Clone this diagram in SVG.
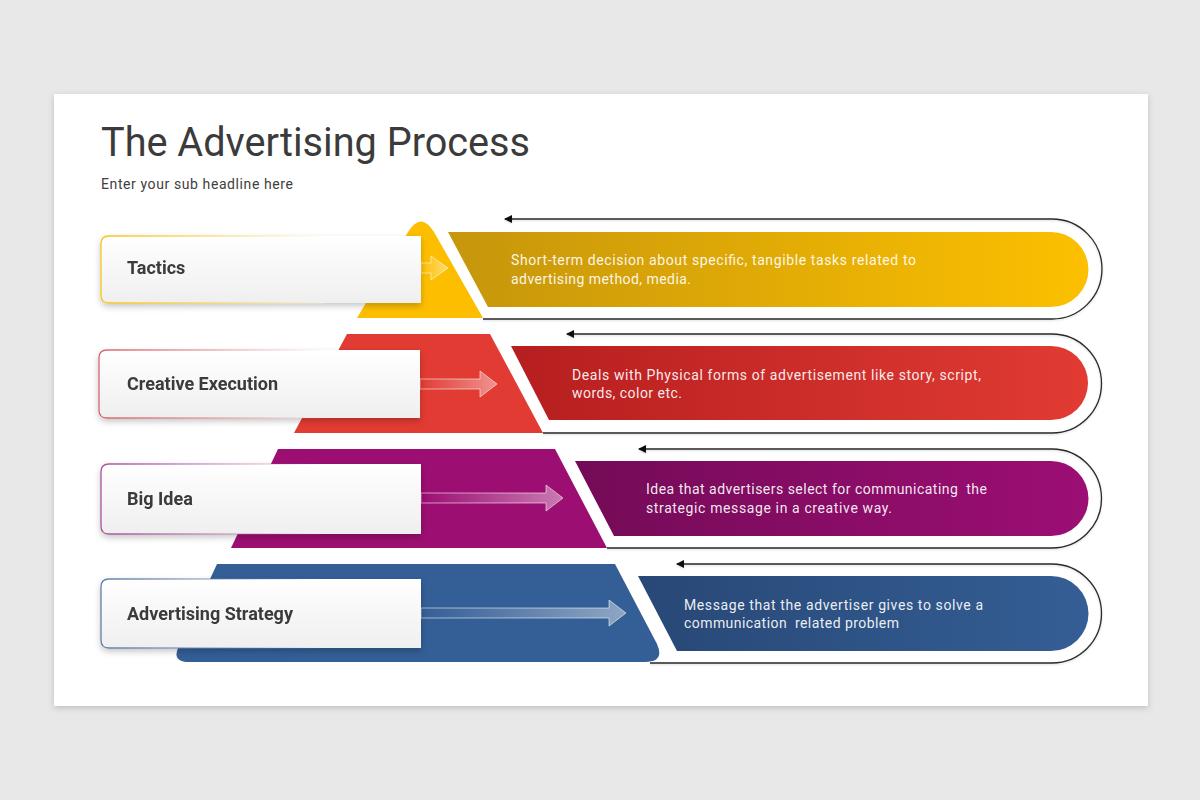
<svg xmlns="http://www.w3.org/2000/svg" width="1200" height="800" viewBox="0 0 1200 800">
<defs>
<style>
.title{font-family:Roboto,"Liberation Sans",sans-serif;font-size:40px;fill:#3b3b3b}
.sub{font-family:Roboto,"Liberation Sans",sans-serif;font-size:14px;fill:#404040}
.lbl{font-family:Roboto,"Liberation Sans",sans-serif;font-size:18px;font-weight:700;fill:#3a3a3a}
.desc{font-family:Roboto,"Liberation Sans",sans-serif;font-size:14px;fill:#ffffff;fill-opacity:0.92;white-space:pre}
.outline{fill:none;stroke:#2a2a2a;stroke-width:1.3}
.arr{fill:url(#arrowFill);stroke:#ffffff;stroke-opacity:0.55;stroke-width:1}
.box{filter:url(#boxShadow)}
</style>
<filter id="cardShadow" x="-5%" y="-5%" width="110%" height="115%">
<feDropShadow dx="0" dy="2" stdDeviation="3" flood-color="#000" flood-opacity="0.18"/>
</filter>
<filter id="boxShadow" x="-10%" y="-20%" width="120%" height="150%">
<feDropShadow dx="0" dy="3" stdDeviation="3" flood-color="#000" flood-opacity="0.22"/>
</filter>
<filter id="lineShadow" x="-5%" y="-10%" width="110%" height="130%">
<feDropShadow dx="0" dy="1" stdDeviation="1" flood-color="#000" flood-opacity="0.15"/>
</filter>
<linearGradient id="boxFill" x1="0" y1="0" x2="0" y2="1">
<stop offset="0" stop-color="#ffffff"/>
<stop offset="1" stop-color="#efefef"/>
</linearGradient>
<linearGradient id="arrowFill" x1="0" y1="0" x2="1" y2="0">
<stop offset="0" stop-color="#ffffff" stop-opacity="0"/>
<stop offset="1" stop-color="#ffffff" stop-opacity="0.45"/>
</linearGradient>
<linearGradient id="bdY" x1="0" y1="0" x2="1" y2="0"><stop offset="0" stop-color="#f5c518"/><stop offset="0.7" stop-color="#f5c518" stop-opacity="0"/></linearGradient>
<linearGradient id="bdR" x1="0" y1="0" x2="1" y2="0"><stop offset="0" stop-color="#d9656a"/><stop offset="0.7" stop-color="#d9656a" stop-opacity="0"/></linearGradient>
<linearGradient id="bdP" x1="0" y1="0" x2="1" y2="0"><stop offset="0" stop-color="#a8539a"/><stop offset="0.7" stop-color="#a8539a" stop-opacity="0"/></linearGradient>
<linearGradient id="bdB" x1="0" y1="0" x2="1" y2="0"><stop offset="0" stop-color="#5f7fa8"/><stop offset="0.7" stop-color="#5f7fa8" stop-opacity="0"/></linearGradient>
<linearGradient id="gY" x1="0" y1="0" x2="1" y2="0"><stop offset="0" stop-color="#c6960c"/><stop offset="1" stop-color="#fcc000"/></linearGradient>
<linearGradient id="gR" x1="0" y1="0" x2="1" y2="0"><stop offset="0" stop-color="#b61e1f"/><stop offset="1" stop-color="#e13b33"/></linearGradient>
<linearGradient id="gP" x1="0" y1="0" x2="1" y2="0"><stop offset="0" stop-color="#740b57"/><stop offset="1" stop-color="#9c0e74"/></linearGradient>
<linearGradient id="gB" x1="0" y1="0" x2="1" y2="0"><stop offset="0" stop-color="#284876"/><stop offset="1" stop-color="#345e95"/></linearGradient>
<marker id="head" markerWidth="10" markerHeight="8" refX="7" refY="4" orient="auto" markerUnits="userSpaceOnUse">
<path d="M0,0 L8,4 L0,8 Z" fill="#111"/>
</marker>
</defs>

<rect x="0" y="0" width="1200" height="800" fill="#e9e8e9"/>
<rect x="54" y="94" width="1094" height="612" fill="#ffffff" filter="url(#cardShadow)"/>

<text class="title" x="101" y="156" textLength="429" lengthAdjust="spacingAndGlyphs">The Advertising Process</text>
<text class="sub" x="101" y="189" textLength="192" lengthAdjust="spacing">Enter your sub headline here</text>

<!-- pyramid layers -->
<g id="pyramid">
<path d="M357,318 L408,232 Q421,211 434,232 L483,318 Z" fill="#fdbe00"/>
<path d="M294,433 L347,334 L490,334 L543,433 Z" fill="#e13b33"/>
<path d="M231,548 L278,449 L555,449 L607,548 Z" fill="#9c0e72"/>
<path d="M217,564 L615,564 L657,644 Q665,662 645,662 L190,662 Q172,662 178,648 Z" fill="#335e96"/>
</g>

<!-- connectors -->
<g id="connectors" filter="url(#lineShadow)">
<path class="outline" d="M483,319 L1052,319 A50,50 0 0 0 1052,219 L505,219" marker-end="url(#head)"/>
<path class="outline" d="M543,433 L1052,433 A49.5,49.5 0 0 0 1052,334 L567,334" marker-end="url(#head)"/>
<path class="outline" d="M607,548 L1052,548 A49.5,49.5 0 0 0 1052,449 L639,449" marker-end="url(#head)"/>
<path class="outline" d="M650,663 L1052,663 A49.5,49.5 0 0 0 1052,564 L677,564" marker-end="url(#head)"/>
</g>

<!-- description bands -->
<g id="band-tactics">
<path d="M448,232 L1051,232 A37.5,37.5 0 0 1 1051,307 L488,307 Z" fill="url(#gY)"/>
<text class="desc" x="511" y="265" textLength="405" lengthAdjust="spacing">Short-term decision about specific, tangible tasks related to</text>
<text class="desc" x="511" y="284" textLength="180" lengthAdjust="spacing">advertising method, media.</text>
</g>
<g id="band-creative">
<path d="M511,346 L1051,346 A37,37 0 0 1 1051,420 L549,420 Z" fill="url(#gR)"/>
<text class="desc" x="572" y="380" textLength="409" lengthAdjust="spacing">Deals with Physical forms of advertisement like story, script,</text>
<text class="desc" x="572" y="398" textLength="110" lengthAdjust="spacing">words, color etc.</text>
</g>
<g id="band-bigidea">
<path d="M575,461 L1051,461 A37.5,37.5 0 0 1 1051,536 L614,536 Z" fill="url(#gP)"/>
<text class="desc" x="646" y="494" textLength="341" lengthAdjust="spacing">Idea that advertisers select for communicating  the</text>
<text class="desc" x="646" y="513" textLength="246" lengthAdjust="spacing">strategic message in a creative way.</text>
</g>
<g id="band-strategy">
<path d="M638,576 L1051,576 A37.5,37.5 0 0 1 1051,651 L677,651 Z" fill="url(#gB)"/>
<text class="desc" x="684" y="610" textLength="299" lengthAdjust="spacing">Message that the advertiser gives to solve a</text>
<text class="desc" x="684" y="628" textLength="215" lengthAdjust="spacing">communication  related problem</text>
</g>

<!-- inner arrows -->
<g id="arrows">
<path class="arr" d="M421,263 L431,263 L431,256 L448,268 L431,280 L431,273 L421,273 Z"/>
<path class="arr" d="M420,379 L480,379 L480,371 L497,384 L480,397 L480,389 L420,389 Z"/>
<path class="arr" d="M421,493 L546,493 L546,485 L563,498 L546,511 L546,503 L421,503 Z"/>
<path class="arr" d="M421,608 L609,608 L609,600 L626,613 L609,626 L609,618 L421,618 Z"/>
</g>

<!-- label nodes -->
<g id="node-tactics" class="box">
<path d="M109,236 H421 V303 H109 Q101,303 101,295 V244 Q101,236 109,236 Z" fill="url(#boxFill)" stroke="url(#bdY)" stroke-width="1.3"/>
<text class="lbl" x="127" y="274">Tactics</text>
</g>
<g id="node-creative" class="box">
<path d="M107,350 H420 V418 H107 Q99,418 99,410 V358 Q99,350 107,350 Z" fill="url(#boxFill)" stroke="url(#bdR)" stroke-width="1.3"/>
<text class="lbl" x="127" y="390">Creative Execution</text>
</g>
<g id="node-bigidea" class="box">
<path d="M109,464 H421 V534 H109 Q101,534 101,526 V472 Q101,464 109,464 Z" fill="url(#boxFill)" stroke="url(#bdP)" stroke-width="1.3"/>
<text class="lbl" x="127" y="505">Big Idea</text>
</g>
<g id="node-strategy" class="box">
<path d="M109,579 H421 V648 H109 Q101,648 101,640 V587 Q101,579 109,579 Z" fill="url(#boxFill)" stroke="url(#bdB)" stroke-width="1.3"/>
<text class="lbl" x="127" y="620">Advertising Strategy</text>
</g>
</svg>
